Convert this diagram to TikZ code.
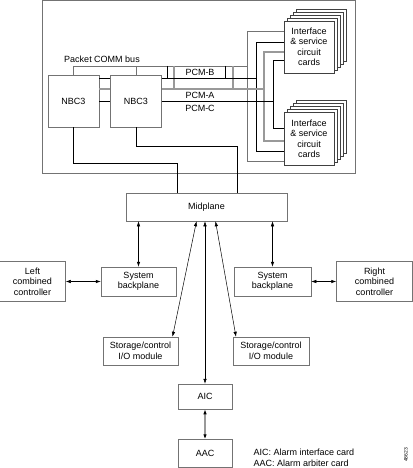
\documentclass[tikz,border=0pt]{standalone}
\usepackage{fontspec}
\setmainfont{Liberation Sans}
\usepackage{tikz}
\usetikzlibrary{shapes, arrows.meta, positioning}

\begin{document}
\begin{tikzpicture}[x=1pt, y=-1pt, font=\fontsize{9}{10.5}\selectfont]
% Define styles
\tikzstyle{box} = [rectangle, draw=black!55, line width=0.5pt, fill=white, align=center, inner sep=0pt]
\tikzstyle{card} = [rectangle, draw=black!75, line width=0.5pt, fill=white, align=center, inner sep=0pt, minimum width=50pt, minimum height=52pt]
\tikzstyle{bus} = [black, line width=0.9pt]
\tikzstyle{graybus} = [black!40, line width=1.1pt]
\tikzstyle{thinbus} = [black!55, line width=0.5pt]
\tikzstyle{arrow} = [line width=0.5pt, {Latex[length=5pt,width=3.5pt,color=black]}-{Latex[length=5pt,width=3.5pt,color=black]}]

\useasboundingbox (0,0) rectangle (412,468);

% Shelf
\node (shelf) [box, fill=none, minimum width=313pt, minimum height=172.5pt] at (198.5,86.75) {};
\node (nbcL) [box, minimum width=51pt, minimum height=52pt] at (73.5,101) {NBC3};
\node (nbcR) [box, minimum width=51pt, minimum height=52pt, right=11pt of nbcL] {NBC3};

% Card stacks
\foreach \i in {4,3,2,1} {
  \node [card, xshift=3*\i pt, yshift=3*\i pt] at (309,47) {};
  \node [card, xshift=3*\i pt, yshift=3*\i pt, minimum height=53pt] at (309,138.5) {};
}
\node (cardT) [card] at (309,47) {Interface\\ \& service\\ circuit\\ cards};
\node (cardB) [card, minimum height=53pt, below=39pt of cardT] {Interface\\ \& service\\ circuit\\ cards};

% Buses
\draw [thinbus] (nbcL.north) -- (nbcL.north |- 0,66) -- (247,66);
\draw [thinbus] (nbcR.north |- 0,66) -- (nbcR.north);
\draw [thinbus] (cardT.west |- 0,31) -| (247,161) -- (cardB.west |- 0,161);
\draw [bus] (167,66) -- (167,78);
\draw [bus] (225,66) -- (225,78);
\draw [graybus] (174,66) -- (174,89);
\draw [graybus] (233,66) -- (233,89);

\draw [bus] (nbcL.east |- 0,78) -- (nbcR.west |- 0,78);
\draw [bus] (nbcR.east |- 0,78) -- (256,78);
\draw [bus] (cardT.west |- 0,42) -| (256,151) -- (cardB.west |- 0,151);

\draw [graybus] (nbcL.east |- 0,89) -- (nbcR.west |- 0,89);
\draw [graybus] (nbcR.east |- 0,89) -- (264,89);
\draw [graybus] (cardT.west |- 0,52) -| (264,141) -- (cardB.west |- 0,141);

\draw [bus] (nbcL.east |- 0,101) -- (nbcR.west |- 0,101);
\draw [bus] (nbcR.east |- 0,101) -- (273,101);
\draw [bus] (cardT.west |- 0,60) -| (273,128) -- (cardB.west |- 0,128);

\node (commlbl) at (102,59) {Packet COMM bus};
\node (pcmb) at (200,72) {PCM-B};
\node (pcma) at (200,95.5) {PCM-A};
\node (pcmc) at (200,108) {PCM-C};

% Midplane
\node (midplane) [box, minimum width=161pt, minimum height=28pt] at (206.5,207) {Midplane};
\draw [bus] (nbcL.south) -- ++(0,36) -| ([xshift=52pt]midplane.north west);
\draw [bus] (nbcR.south) -- ++(0,19) -| ([xshift=112pt]midplane.north west);

% Backplanes and controllers
\node (sysL) [box, minimum width=75pt, minimum height=29pt] at (138.5,281.5) {System\\ backplane};
\node (sysR) [box, minimum width=77pt, minimum height=29pt] at (272.5,281.5) {System\\ backplane};
\node (ctrlL) [box, minimum width=66pt, minimum height=40pt, left=35pt of sysL] {Left\\ combined\\ controller};
\node (ctrlR) [box, minimum width=76pt, minimum height=40pt, right=25pt of sysR] {Right\\ combined\\ controller};
\draw [arrow] (midplane.south -| sysL.north) -- (sysL.north);
\draw [arrow] (midplane.south -| sysR.north) -- (sysR.north);
\draw [arrow] (ctrlL.east |- sysL.west) -- (sysL.west);
\draw [arrow] (sysR.east) -- (ctrlR.west |- sysR.east);

% Storage/control I/O modules
\node (storL) [box, minimum width=75pt, minimum height=28pt] at (140.5,351) {Storage/control\\ I/O module};
\node (storR) [box, minimum width=76pt, minimum height=28pt] at (271,351) {Storage/control\\ I/O module};
\draw [arrow] ([xshift=-10pt]midplane.south) -- ([xshift=32pt]storL.north);
\draw [arrow] ([xshift=9pt]midplane.south) -- ([xshift=-35pt]storR.north);

% Alarm cards
\node (aic) [box, minimum width=54pt, minimum height=25pt] at (205,396.5) {AIC};
\node (aac) [box, minimum width=54pt, minimum height=28pt, below=30pt of aic] {AAC};
\draw [arrow] (aic.north |- midplane.south) -- (aic.north);
\draw [arrow, black!40, line width=1.2pt] (aic.south) -- (aac.north);

\node (legend) [anchor=west, align=left] at (250,458) {AIC: Alarm interface card\\ AAC: Alarm arbiter card};
\node (fignum) [rotate=90, font=\fontsize{5}{5}\selectfont] at (406,455) {48623};
\end{tikzpicture}
\end{document}
